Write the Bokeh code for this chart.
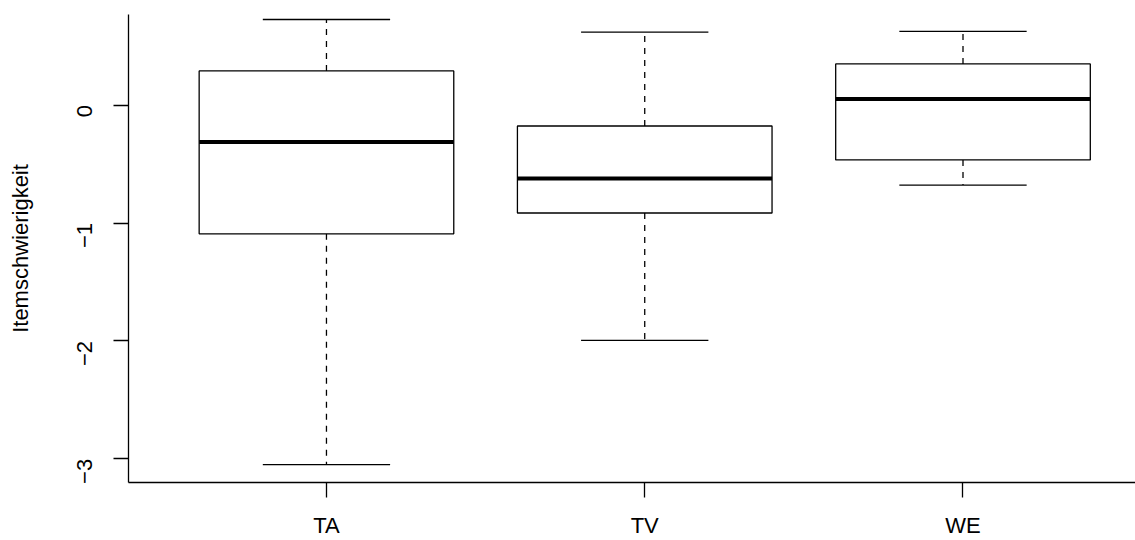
import math
from bokeh.plotting import figure
from bokeh.models import ColumnDataSource, FixedTicker, Range1d
from bokeh.embed import file_html
from bokeh.resources import INLINE

# ---- data ----
groups = ["TA", "TV", "WE"]
positions = [1, 2, 3]
upper_whisker = [0.726, 0.619, 0.626]
q3 = [0.290, -0.177, 0.349]
median = [-0.312, -0.622, 0.051]
q1 = [-1.092, -0.915, -0.465]
lower_whisker = [-3.049, -1.996, -0.678]
y_ticks = [-3, -2, -1, 0]
y_tick_labels = ["\u22123", "\u22122", "\u22121", "0"]
y_title = "Itemschwierigkeit"

FONT = "Liberation Sans"
FS = "22px"
BOX_HALF = 0.4
CAP_HALF = 0.2

src = ColumnDataSource(dict(
    x=positions,
    left=[p - BOX_HALF for p in positions],
    right=[p + BOX_HALF for p in positions],
    cap_l=[p - CAP_HALF for p in positions],
    cap_r=[p + CAP_HALF for p in positions],
    upper=upper_whisker, q3=q3, med=median, q1=q1, lower=lower_whisker,
))

p = figure(width=1135, height=540, output_backend="svg", toolbar_location=None,
           x_range=Range1d(0.378, 3.542), y_range=Range1d(-3.201, 0.7686),
           min_border_left=128, min_border_right=0, min_border_top=14,
           min_border_bottom=56)
p.outline_line_color = None
p.grid.visible = False
p.background_fill_color = "white"
p.border_fill_color = "white"

# whiskers (dashed)
p.segment(x0="x", y0="q3", x1="x", y1="upper", source=src,
          line_color="black", line_width=1.3, line_dash="6 6")
p.segment(x0="x", y0="q1", x1="x", y1="lower", source=src,
          line_color="black", line_width=1.3, line_dash="6 6")
# caps
p.segment(x0="cap_l", y0="upper", x1="cap_r", y1="upper", source=src,
          line_color="black", line_width=1.3)
p.segment(x0="cap_l", y0="lower", x1="cap_r", y1="lower", source=src,
          line_color="black", line_width=1.3)
# boxes
p.quad(left="left", right="right", top="q3", bottom="q1", source=src,
       fill_color="white", line_color="black", line_width=1.3)
# medians
p.segment(x0="left", y0="med", x1="right", y1="med", source=src,
          line_color="black", line_width=4)

# axes
xa = p.xaxis[0]
xa.ticker = FixedTicker(ticks=positions)
xa.major_label_overrides = {pos: g for pos, g in zip(positions, groups)}
xa.minor_tick_line_color = None
xa.major_tick_in = 0
xa.major_tick_out = 15
xa.major_label_standoff = 15
xa.axis_line_width = 1.3
xa.major_tick_line_width = 1.3
xa.major_label_text_font = FONT
xa.major_label_text_font_size = FS
xa.major_label_text_color = "black"

ya = p.yaxis[0]
ya.ticker = FixedTicker(ticks=y_ticks)
ya.major_label_overrides = {t: l for t, l in zip(y_ticks, y_tick_labels)}
ya.minor_tick_line_color = None
ya.major_tick_in = 0
ya.major_tick_out = 15
ya.major_label_standoff = 29
ya.major_label_orientation = math.pi / 2
ya.axis_line_width = 1.3
ya.major_tick_line_width = 1.3
ya.major_label_text_font = FONT
ya.major_label_text_font_size = FS
ya.major_label_text_color = "black"
ya.axis_label = y_title
ya.axis_label_text_font = FONT
ya.axis_label_text_font_size = FS
ya.axis_label_text_font_style = "normal"
ya.axis_label_text_color = "black"
ya.axis_label_standoff = 34

open("out.html", "w").write(file_html(p, INLINE))
